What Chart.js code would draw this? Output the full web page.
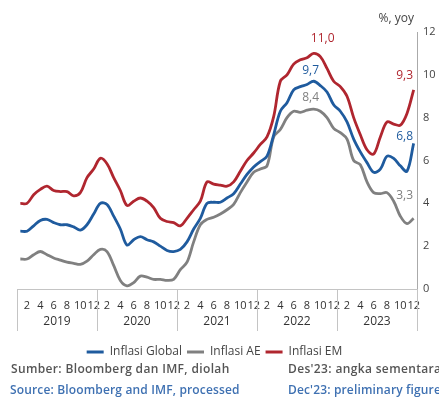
<!DOCTYPE html>
<html>
<head>
<meta charset="utf-8">
<script src="https://cdn.jsdelivr.net/npm/chart.js@4.4.1/dist/chart.umd.min.js"></script>
<style>
  html, body { margin: 0; padding: 0; background: #fff; }
  #wrap { position: relative; width: 439px; height: 402px; overflow: hidden; }
  #box { position: absolute; left: 0; top: 0; width: 439px; height: 368px; }
  .note { position: absolute; font-family: 'Open Sans', sans-serif; font-size: 12px; font-weight: 600; white-space: nowrap; }
  .id { color: #555; letter-spacing: 0.35px; }
  .en { color: #3f71b2; letter-spacing: 0.15px; }
</style>
</head>
<body>
<div id="wrap">
  <div id="box"><canvas id="inflasiChart"></canvas></div>
  <div class="note id" style="left:11px; top:360px;">Sumber: Bloomberg dan IMF, diolah</div>
  <div class="note id" style="left:288px; top:360px;">Des'23: angka sementara</div>
  <div class="note en" style="left:10px; top:381px;">Source: Bloomberg and IMF, processed</div>
  <div class="note en" style="left:288px; top:381px;">Dec'23: preliminary figure</div>
</div>
<script>
// Inflasi global, AE, EM (% yoy), Jan 2019 - Des 2023
const years = ['2019', '2020', '2021', '2022', '2023'];
const monthNums = [1, 2, 3, 4, 5, 6, 7, 8, 9, 10, 11, 12];

const inflasiGlobal = [
    2.7, 2.7, 2.95, 3.2, 3.25, 3.1, 3.0, 3.0, 2.9, 2.75, 3.0, 3.5,
    4.0, 3.95, 3.4, 2.8, 2.05, 2.3, 2.45, 2.3, 2.2, 2.0, 1.8, 1.75,
    1.85, 2.2, 2.8, 3.3, 4.0, 4.05, 4.05, 4.25, 4.45, 4.9, 5.35, 5.7,
    5.95, 6.2, 7.2, 8.3, 8.7, 9.3, 9.45, 9.55, 9.7, 9.5, 9.2, 8.6,
    8.3, 7.8, 7.0, 6.4, 5.9, 5.45, 5.6, 6.2, 6.1, 5.75, 5.5, 6.8
];
const inflasiAE = [
    1.4, 1.4, 1.6, 1.75, 1.6, 1.45, 1.35, 1.25, 1.2, 1.15, 1.3, 1.6,
    1.85, 1.75, 1.1, 0.4, 0.15, 0.3, 0.6, 0.55, 0.45, 0.45, 0.4, 0.45,
    0.9, 1.25, 2.2, 3.0, 3.25, 3.35, 3.5, 3.7, 3.95, 4.5, 5.0, 5.45,
    5.6, 5.75, 7.1, 7.45, 8.0, 8.3, 8.25, 8.35, 8.4, 8.3, 8.0, 7.5,
    7.3, 7.0, 6.0, 5.8, 5.0, 4.5, 4.45, 4.5, 4.1, 3.4, 3.05, 3.3
];
const inflasiEM = [
    4.0, 4.0, 4.4, 4.65, 4.8, 4.6, 4.55, 4.55, 4.35, 4.5, 5.2, 5.6,
    6.1, 5.85, 5.2, 4.6, 3.9, 4.1, 4.25, 4.1, 3.8, 3.3, 3.15, 3.1,
    2.95, 3.3, 3.7, 4.1, 5.0, 4.9, 4.85, 4.8, 5.0, 5.5, 6.0, 6.35,
    6.75, 7.1, 8.05, 9.7, 10.0, 10.5, 10.7, 10.8, 11.0, 10.85, 10.3, 9.7,
    9.45, 9.0, 8.0, 7.2, 6.5, 6.3, 7.1, 7.8, 7.7, 7.65, 8.2, 9.3
];

const colors = {
    blue: '#1f5b9e',
    gray: '#808080',
    red: '#b0262f',
    text: '#444'
};

const labels = [];
years.forEach(y => monthNums.forEach(m => labels.push(y + '-' + m)));

// garis pemisah tahun + label tahun di bawah sumbu x
const yearRow = {
    id: 'yearRow',
    afterLayout(chart) {
        // legenda ditengah terhadap lebar kanvas penuh
        const lg = chart.legend;
        const shift = lg.left;
        lg.left -= shift;
        lg.right -= shift - 7;
    },
    afterDraw(chart) {
        const { ctx, chartArea, scales: { x } } = chart;
        const half = (x.getPixelForValue(1) - x.getPixelForValue(0)) / 2;
        const top = chartArea.bottom;
        const bottom = top + 42;
        ctx.save();
        ctx.strokeStyle = '#c4c4c4';
        ctx.lineWidth = 1;
        ctx.beginPath();
        for (let k = 0; k <= years.length; k++) {
            const px = Math.round(x.getPixelForValue(k * 12) - half) + 0.5;
            ctx.moveTo(px, top);
            ctx.lineTo(px, bottom);
        }
        ctx.stroke();
        ctx.fillStyle = '#333';
        ctx.font = '12px "Open Sans"';
        ctx.textAlign = 'center';
        ctx.textBaseline = 'middle';
        years.forEach((y, k) => {
            const mid = (x.getPixelForValue(k * 12) + x.getPixelForValue(k * 12 + 11)) / 2;
            ctx.fillText(y, mid, top + 33);
        });
        // satuan
        ctx.fillStyle = colors.text;
        ctx.font = '12px "Open Sans"';
        ctx.textAlign = 'right';
        ctx.fillText('%, yoy', chartArea.right - 3, chartArea.top - 13);
        ctx.restore();
    }
};

// label nilai puncak & terakhir
const valueLabels = {
    id: 'valueLabels',
    afterDatasetsDraw(chart) {
        const { ctx } = chart;
        const marks = [
            { ds: 2, idx: 44, dx: 9, dy: -15 },
            { ds: 0, idx: 44, dx: -3, dy: -11 },
            { ds: 1, idx: 44, dx: -3, dy: -12 },
            { ds: 2, idx: 59, dx: -9, dy: -14 },
            { ds: 0, idx: 59, dx: -9, dy: -7 },
            { ds: 1, idx: 59, dx: -9, dy: -23 }
        ];
        ctx.save();
        ctx.font = '12px "Open Sans"';
        ctx.textAlign = 'center';
        ctx.textBaseline = 'middle';
        marks.forEach(m => {
            const ds = chart.data.datasets[m.ds];
            const pt = chart.getDatasetMeta(m.ds).data[m.idx];
            ctx.fillStyle = ds.borderColor;
            ctx.fillText(ds.data[m.idx].toFixed(1).replace('.', ','), pt.x + m.dx, pt.y + m.dy);
        });
        ctx.restore();
    }
};

const ctx = document.getElementById('inflasiChart').getContext('2d');
new Chart(ctx, {
    type: 'line',
    data: {
        labels: labels,
        datasets: [
            { label: 'Inflasi Global', data: inflasiGlobal, borderColor: colors.blue, backgroundColor: colors.blue },
            { label: 'Inflasi AE', data: inflasiAE, borderColor: colors.gray, backgroundColor: colors.gray },
            { label: 'Inflasi EM', data: inflasiEM, borderColor: colors.red, backgroundColor: colors.red }
        ]
    },
    options: {
        responsive: true, maintainAspectRatio: false, animation: false,
        layout: { padding: { top: 32, left: 17, right: 0, bottom: 0 } },
        elements: {
            line: { borderWidth: 2.8, tension: 0.35 },
            point: { radius: 0 }
        },
        plugins: {
            legend: {
                position: 'bottom',
                labels: {
                    boxWidth: 17, boxHeight: 3, padding: 5,
                    color: colors.text,
                    font: { family: 'Open Sans', size: 12 },
                    generateLabels: (chart) => Chart.defaults.plugins.legend.labels.generateLabels(chart)
                        .map(l => ({ ...l, lineWidth: 0 }))
                }
            },
            tooltip: { enabled: false }
        },
        scales: {
            x: {
                offset: true,
                grid: { display: false },
                border: { display: true, color: '#c4c4c4' },
                ticks: {
                    autoSkip: false, maxRotation: 0, padding: 2,
                    color: '#333',
                    font: { family: 'Open Sans', size: 11 },
                    callback: (v, i) => (monthNums[i % 12] % 2 === 0 ? String(monthNums[i % 12]) : '')
                },
                afterFit: (scale) => { scale.height = 52; }
            },
            y: {
                position: 'right',
                min: 0, max: 12,
                grid: { display: false, drawTicks: false, tickLength: 0 },
                border: { display: true, color: '#aaa' },
                ticks: {
                    stepSize: 2, padding: 6,
                    color: colors.text,
                    font: { family: 'Open Sans', size: 11 }
                },
                afterFit: (scale) => { scale.width = 22; }
            }
        }
    },
    plugins: [yearRow, valueLabels]
});
</script>
</body>
</html>
